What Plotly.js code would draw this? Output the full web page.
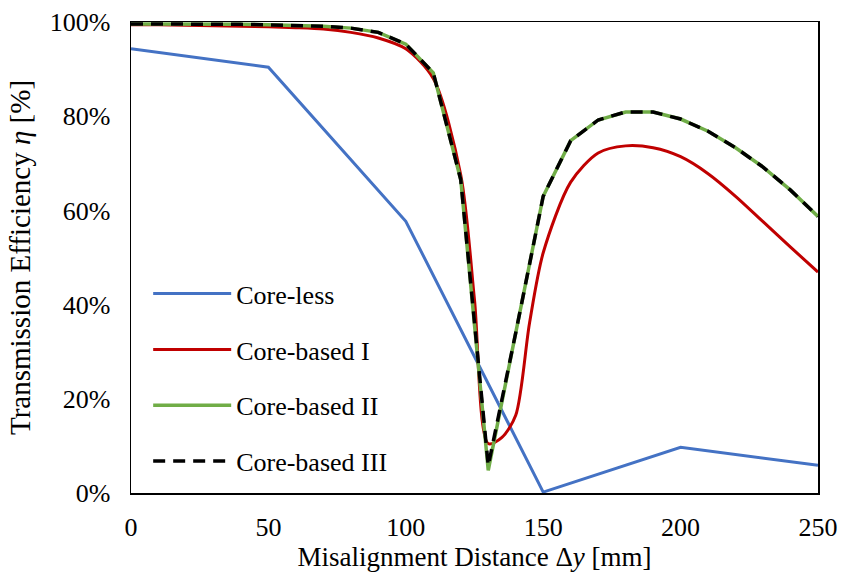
<!DOCTYPE html>
<html>
<head>
<meta charset="utf-8">
<script src="https://cdn.plot.ly/plotly-3.0.1.min.js"></script>
<style>html,body{margin:0;padding:0;background:#fff;}#chart{width:842px;height:583px;}</style>
</head>
<body>
<div id="chart"></div>
<script>
// Data (efficiency in %)
const xCoreless = [0, 50, 100, 150, 200, 250];
const yCoreless = [94.3, 90.4, 57.7, 0.2, 9.7, 5.9];

const xCoreI = [0, 10, 20, 30, 40, 50, 60, 70, 80, 90, 100, 110, 120, 125, 130, 135, 140, 145, 150, 160, 170, 180, 190, 200, 210, 220, 230, 240, 250];
const yCoreI = [99.4, 99.4, 99.3, 99.2, 99.1, 99.0, 98.8, 98.5, 97.8, 96.6, 94.3, 88.0, 67.5, 41, 10.5, 11.8, 16.5, 36, 51, 66, 72.2, 73.7, 73.3, 71.4, 67.8, 63, 57.6, 52.2, 46.9];

const xCoreII = [0, 10, 20, 30, 40, 50, 60, 70, 80, 90, 100, 110, 120, 130, 140, 150, 160, 170, 180, 190, 200, 210, 220, 230, 240, 250];
const yCoreII = [99.6, 99.6, 99.6, 99.5, 99.5, 99.4, 99.3, 99.1, 98.7, 97.8, 95.3, 89.2, 66.5, 4.8, 34, 63, 74.8, 79.2, 80.9, 80.9, 79.4, 76.8, 73.3, 69.2, 64.3, 58.7];

const xCoreIII = [0, 10, 20, 30, 40, 50, 60, 70, 80, 90, 100, 110, 120, 130, 140, 150, 160, 170, 180, 190, 200, 210, 220, 230, 240, 250];
const yCoreIII = [99.6, 99.6, 99.6, 99.5, 99.5, 99.4, 99.3, 99.1, 98.7, 97.8, 95.3, 89.2, 66.5, 5.8, 34, 63, 74.8, 79.2, 80.9, 80.9, 79.4, 76.8, 73.3, 69.2, 64.3, 58.7];

const seriesNames = ["Core-less", "Core-based I", "Core-based II", "Core-based III"];
const xTicks = [0, 50, 100, 150, 200, 250];
const yTicks = [0, 20, 40, 60, 80, 100];
const yTickLabels = ["0%", "20%", "40%", "60%", "80%", "100%"];

const FONT = "'Liberation Serif', 'Times New Roman', serif";

const traces = [
  {x: xCoreless, y: yCoreless, name: seriesNames[0], mode: "lines", legendgroup: "a",
   line: {color: "#4472C4", width: 3}},
  {x: xCoreI, y: yCoreI, name: seriesNames[1], mode: "lines", legendgroup: "b",
   line: {color: "#C00000", width: 3, shape: "spline", smoothing: 0.8}},
  {x: xCoreII, y: yCoreII, name: seriesNames[2], mode: "lines", legendgroup: "c",
   line: {color: "#70AD47", width: 3.5}},
  {x: xCoreIII, y: yCoreIII, name: seriesNames[3], mode: "lines", legendgroup: "d",
   line: {color: "#000000", width: 3.5, dash: "12px,8px"}}
];

const layout = {
  width: 842, height: 583,
  margin: {l: 131, r: 24, t: 22, b: 90},
  paper_bgcolor: "#fff", plot_bgcolor: "#fff",
  font: {family: FONT, size: 26, color: "#000"},
  showlegend: true,
  legend: {x: 0.025, y: 0.473, xanchor: "left", yanchor: "top",
           traceorder: "grouped", tracegroupgap: 19, itemwidth: 78,
           bgcolor: "rgba(0,0,0,0)", font: {family: FONT, size: 26, color: "#000"}},
  xaxis: {
    range: [0, 250], tickvals: xTicks, ticktext: xTicks.map(String),
    showgrid: false, zeroline: false, showline: true, linecolor: "#000", linewidth: 1.5,
    mirror: true, ticks: "", ticklen: 0, ticklabelstandoff: 10,
    tickfont: {family: FONT, size: 26, color: "#000"},
    title: {text: "Misalignment Distance Δ<i>y</i> [mm]", font: {family: FONT, size: 27, color: "#000"}, standoff: 6}
  },
  yaxis: {
    range: [0, 100], tickvals: yTicks, ticktext: yTickLabels,
    showgrid: false, zeroline: false, showline: true, linecolor: "#000", linewidth: 1.5,
    mirror: true, ticks: "", ticklen: 0, ticklabelstandoff: 14,
    tickfont: {family: FONT, size: 26, color: "#000"},
    title: {text: "Transmission Efficiency <i>η</i> [%]", font: {family: FONT, size: 29, color: "#000"}, standoff: 10}
  }
};

Plotly.newPlot("chart", traces, layout, {displayModeBar: false, staticPlot: true});
</script>
</body>
</html>
